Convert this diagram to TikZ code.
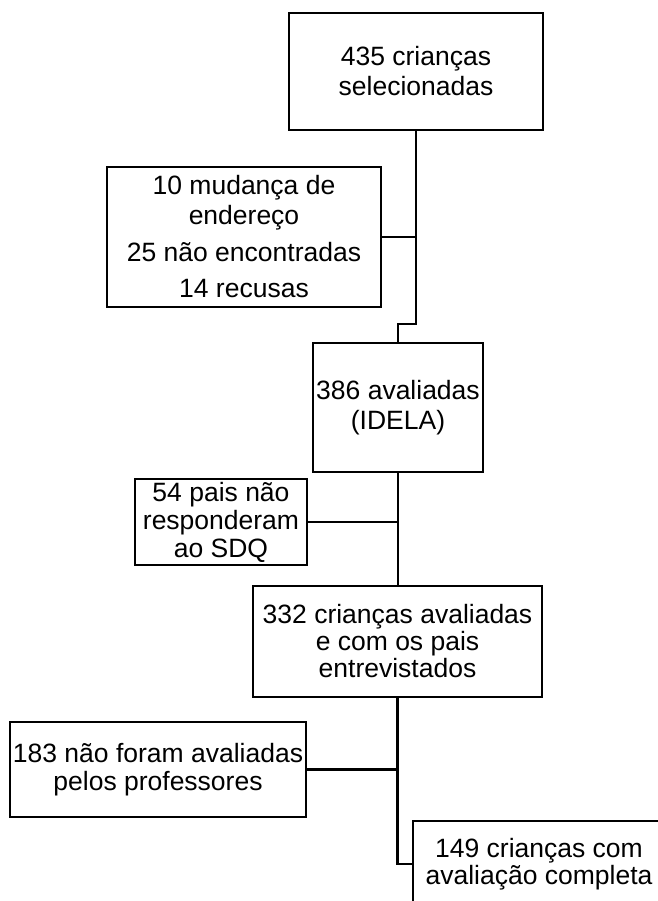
\documentclass[tikz,border=0pt]{standalone}
\usepackage{fontspec}
\setmainfont{Liberation Sans}
\begin{document}
\begin{tikzpicture}[x=1pt,y=-1pt,
  box/.style={draw,line width=2.5pt,rectangle,inner sep=0pt,align=center,
    font=\fontsize{26.5}{30}\selectfont},
  link/.style={line width=2.5pt}]
\useasboundingbox (0,0) rectangle (657,901);
\node[box,minimum width=254pt,minimum height=117pt] (b1) at (416,71.5) {435 crianças\\selecionadas};
\node[box,minimum width=274pt,minimum height=140pt] (b2) at (244,237) {10 mudança de\\endereço\\[7pt]25 não encontradas\\[6pt]14 recusas};
\node[box,minimum width=170pt,minimum height=129pt] (b3) at (398,407.5) {386 avaliadas\\(IDELA)};
\node[box,minimum width=172pt,minimum height=86pt,font=\fontsize{26.5}{28}\selectfont] (b5) at (221,522) {54 pais não\\responderam\\ao SDQ};
\node[box,minimum width=289pt,minimum height=111pt,font=\fontsize{26.5}{27}\selectfont] (b4) at (397.5,641.5) {332 crianças avaliadas\\e com os pais\\entrevistados};
\node[box,minimum width=296pt,minimum height=95pt,font=\fontsize{26.5}{28}\selectfont] (b6) at (158,769.5) {183 não foram avaliadas\\pelos professores};
\node[box,minimum width=252pt,minimum height=86pt,font=\fontsize{26.5}{27}\selectfont] (b7) at (539,864) {149 crianças com\\avaliação completa};
\coordinate (k1) at (416,324);
\draw[link] (b1.south) -- (k1) -- (k1 -| b3.north) -- (b3.north);
\draw[link] (b2.east) -- (b2.east -| b1.south);
\draw[link] (b3.south) -- (b4.north -| b3.south);
\draw[link] (b5.east) -- (b5.east -| b3.south);
\draw[link] (b4.south) |- (b7.west);
\draw[link] (b6.east) -- (b6.east -| b4.south);
\end{tikzpicture}
\end{document}
